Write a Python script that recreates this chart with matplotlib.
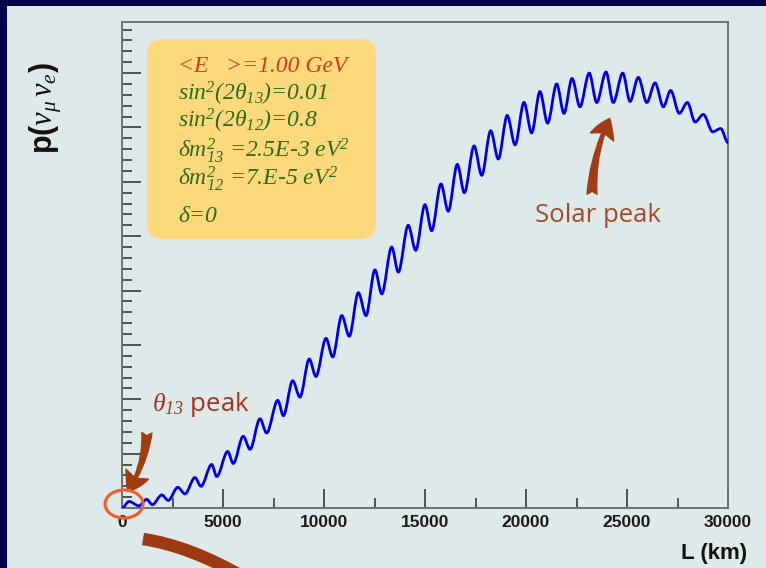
import numpy as np
import matplotlib
matplotlib.use('Agg')
import matplotlib.pyplot as plt
from matplotlib.path import Path
from matplotlib.patches import PathPatch, FancyBboxPatch, FancyArrowPatch, Ellipse, Rectangle
from matplotlib.transforms import IdentityTransform
from matplotlib.ticker import MultipleLocator

plt.rcParams['mathtext.fontset'] = 'custom'
plt.rcParams['mathtext.rm'] = 'Liberation Serif:italic'
plt.rcParams['mathtext.it'] = 'Liberation Serif:italic'
plt.rcParams['mathtext.bf'] = 'Liberation Serif:italic:bold'

# successive maxima / minima of the oscillation probability vs baseline
L_km = [0, 350, 840, 1220, 1500, 1970, 2290, 2760, 3120, 3610, 3910, 4440, 4690,
        5230, 5510, 6000, 6340, 6830, 7160, 7710, 7990, 8450, 8810, 9270, 9600,
        10100, 10430, 10880, 11250, 11700, 12080, 12520, 12860, 13350, 13680,
        14170, 14540, 15000, 15330, 15790, 16150, 16600, 16950, 17430, 17810,
        18250, 18630, 19070, 19460, 19900, 20280, 20690, 21070, 21520, 21880,
        22280, 22670, 23130, 23500, 23960, 24320, 24790, 25150, 25560, 25980,
        26390, 26800, 27160, 27590, 27990, 28370, 28780, 29240, 29640, 30000]
prob = [0.0, 0.006, 0.002, 0.008, 0.003, 0.012, 0.007, 0.019, 0.013, 0.028,
        0.020, 0.040, 0.029, 0.052, 0.041, 0.066, 0.054, 0.082, 0.069, 0.099,
        0.085, 0.117, 0.102, 0.137, 0.121, 0.156, 0.139, 0.177, 0.158, 0.198,
        0.177, 0.219, 0.197, 0.240, 0.217, 0.260, 0.237, 0.279, 0.255, 0.298,
        0.273, 0.316, 0.290, 0.333, 0.306, 0.347, 0.321, 0.361, 0.334, 0.373,
        0.345, 0.383, 0.354, 0.390, 0.363, 0.395, 0.369, 0.400, 0.373, 0.401,
        0.373, 0.400, 0.374, 0.396, 0.373, 0.391, 0.369, 0.384, 0.363, 0.373,
        0.355, 0.362, 0.346, 0.349, 0.336]

x_ticks = [0, 5000, 10000, 15000, 20000, 25000, 30000]

info_lines = [
    '<E   >=1.00 GeV',
    r'sin$^2$(2$\theta_{13}$)=0.01',
    r'sin$^2$(2$\theta_{12}$)=0.8',
    r'$\delta$m$^2_{13}$ =2.5E-3 eV$^2$',
    r'$\delta$m$^2_{12}$ =7.E-5 eV$^2$',
    r'$\delta$=0',
]
info_colors = ['#d43a1e', '#2e6c1e', '#2e6c1e', '#2e6c1e', '#2e6c1e', '#2e6c1e']

W, H = 766, 568


def fx(px):
    return px / W


def fy(py):
    return 1 - py / H


fig = plt.figure(figsize=(W / 100, H / 100), dpi=100, facecolor='#00004d')
fig.patches.append(Rectangle((fx(7), 0), 1, fy(6), transform=fig.transFigure,
                             facecolor='#dee9ea', edgecolor='none', zorder=-5))

ax = fig.add_axes([fx(122), fy(508), (728 - 122) / W, (508 - 22) / H])
ax.set_facecolor('none')
ax.set_xlim(0, 30000)
ax.set_ylim(0, 0.447)

# smooth curve through the extrema: horizontal tangents at each turning point
verts = [(L_km[0], prob[0])]
codes = [Path.MOVETO]
for i in range(1, len(L_km)):
    x0, y0, x1, y1 = L_km[i - 1], prob[i - 1], L_km[i], prob[i]
    dx = x1 - x0
    verts += [(x0 + dx / 3, y0), (x1 - dx / 3, y1), (x1, y1)]
    codes += [Path.CURVE4] * 3
ax.add_patch(PathPatch(Path(verts, codes), fill=False, edgecolor='#0000e8',
                       lw=2.0, zorder=3))

ax.set_xticks(x_ticks)
ax.xaxis.set_minor_locator(MultipleLocator(2500))
ax.yaxis.set_major_locator(MultipleLocator(0.05))
ax.yaxis.set_minor_locator(MultipleLocator(0.01))
ax.tick_params(which='both', direction='in', color='#2a2a2a', width=1.1,
               top=False, right=False, labelleft=False)
ax.tick_params(which='major', length=14)
ax.tick_params(which='minor', length=7)
ax.tick_params(axis='x', pad=5, labelsize=12.5, labelcolor='#1a1a1a')
for lab in ax.get_xticklabels():
    lab.set_fontfamily('Liberation Sans')
    lab.set_fontweight('bold')
for sp in ax.spines.values():
    sp.set_color('#707070')
    sp.set_linewidth(1.4)

fig.text(fx(747), fy(559), 'L (km)', ha='right', va='baseline', fontsize=16,
         fontweight='bold', family='Liberation Sans', color='#111111')
fig.text(fx(46), fy(108), r'p($\nu_{\mu}\,\nu_{e}$)', rotation=90, ha='center',
         va='center', fontsize=22, fontweight='bold', family='Liberation Sans',
         color='#111111')

# parameter box
pix = IdentityTransform()
fig.patches.append(FancyBboxPatch((148, H - 238), 227, 198,
                                  boxstyle='round,pad=0,rounding_size=14',
                                  transform=pix, facecolor='#fdd97c',
                                  edgecolor='#fbd98a', lw=1.5, zorder=1))
baselines = [72, 101, 128, 157, 185, 222]
for s, c, b in zip(info_lines, info_colors, baselines):
    fig.text(fx(178), fy(b), s, va='baseline', ha='left', fontsize=17,
             family='Liberation Serif', style='italic', color=c, zorder=2)

# annotations
fig.text(fx(152), fy(411), r'$\theta_{13}$ peak', va='baseline', fontsize=18.5,
         family='Open Sans', color='#a8321c')
fig.text(fx(535), fy(222), 'Solar peak', va='baseline', fontsize=18.5,
         family='Open Sans', color='#a44a2a')

arrow_kw = dict(transform=pix, color='#a23c12', zorder=4,
                arrowstyle='fancy,head_length=0.9,head_width=1.1,tail_width=0.45',
                mutation_scale=16)
fig.patches.append(FancyArrowPatch((592, H - 197), (611, H - 116),
                                   connectionstyle='arc3,rad=-0.12', **arrow_kw))
fig.patches.append(FancyArrowPatch((147, H - 430), (126, H - 494),
                                   connectionstyle='arc3,rad=-0.15', **arrow_kw))

fig.patches.append(Ellipse((124, H - 504), 38, 28, transform=pix, fill=False,
                           edgecolor='#f25e2a', lw=2.2, zorder=5))

stroke = Path([(143, H - 539), (190, H - 546), (245, H - 578)],
              [Path.MOVETO, Path.CURVE3, Path.CURVE3])
fig.patches.append(PathPatch(stroke, transform=pix, fill=False,
                             edgecolor='#9c3a14', lw=9, capstyle='butt',
                             zorder=4))

fig.savefig('out.png', dpi=100, facecolor=fig.get_facecolor())
